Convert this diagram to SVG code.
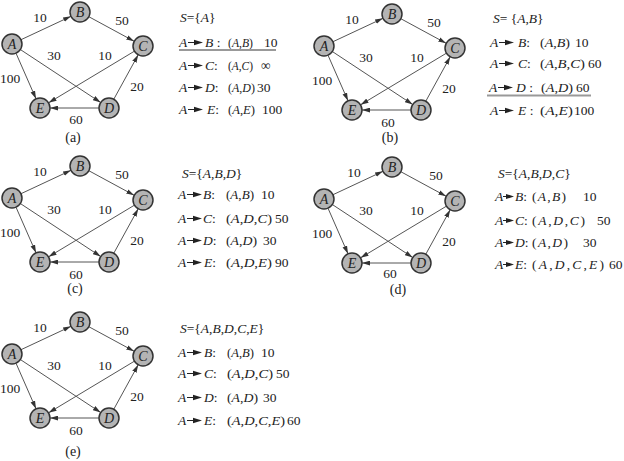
<svg xmlns="http://www.w3.org/2000/svg" xmlns:xlink="http://www.w3.org/1999/xlink" width="624" height="461" viewBox="0 0 624 461">
<style>
.t{font-family:"Liberation Serif","Times New Roman",serif;font-size:13.5px;fill:#222}
.i{font-style:italic}
.lbl{font-family:"Liberation Serif","Times New Roman",serif;font-size:13.5px;fill:#222;text-anchor:middle}
.cap{font-family:"Liberation Serif","Times New Roman",serif;font-size:14px;fill:#222;text-anchor:middle}
.nd circle{fill:#b4b4b4;stroke:#333;stroke-width:1.5}
.nd text{font-family:"Liberation Serif","Times New Roman",serif;font-size:14px;font-style:italic;fill:#222;text-anchor:middle}
.edges line{stroke:#555;stroke-width:1;marker-end:url(#ah)}
.ul{stroke:#999;stroke-width:2}
</style>
<defs>
<marker id="ah" viewBox="0 0 10 6" refX="10" refY="3" markerWidth="8" markerHeight="5" markerUnits="userSpaceOnUse" orient="auto"><path d="M0,0 L10,3 L0,6 Z" fill="#333"/></marker>
<g id="arr"><line x1="0" y1="0" x2="9" y2="0" stroke="#222" stroke-width="1"/><path d="M6,-2.8 L15,0 L6,2.8 Z" fill="#222"/></g>
<g id="arrs"><line x1="0" y1="0" x2="6" y2="0" stroke="#222" stroke-width="1"/><path d="M3,-2.6 L11,0 L3,2.6 Z" fill="#222"/></g>
</defs>

<!-- Panel (a) -->
<g id="panel-a">
<g id="a-connectors" class="edges">
<line x1="21" y1="39.7" x2="71" y2="16.3"/>
<line x1="88.8" y1="16.7" x2="134.2" y2="41.3"/>
<line x1="20.3" y1="49.5" x2="100.7" y2="102.5"/>
<line x1="134.4" y1="51.2" x2="48.6" y2="102.8"/>
<line x1="16" y1="53.2" x2="36" y2="98.8"/>
<line x1="113.8" y1="99.2" x2="138.2" y2="54.8"/>
<line x1="99" y1="108" x2="50" y2="108"/>
</g>
<g id="a-labels">
<text class="lbl" x="40" y="21.5">10</text>
<text class="lbl" x="122" y="24.5">50</text>
<text class="lbl" x="54" y="59.5">30</text>
<text class="lbl" x="105" y="59.5">10</text>
<text class="lbl" x="10" y="82.5">100</text>
<text class="lbl" x="137" y="90.5">20</text>
<text class="lbl" x="76" y="123.5">60</text>
</g>
<g id="a-A" class="nd"><circle cx="12" cy="44" r="10"/><text x="12" y="49">A</text></g>
<g id="a-B" class="nd"><circle cx="80" cy="12" r="10"/><text x="80" y="17">B</text></g>
<g id="a-C" class="nd"><circle cx="143" cy="46" r="10"/><text x="143" y="51">C</text></g>
<g id="a-D" class="nd"><circle cx="109" cy="108" r="10"/><text x="109" y="113">D</text></g>
<g id="a-E" class="nd"><circle cx="40" cy="108" r="10"/><text x="40" y="113">E</text></g>
<text class="cap" x="73" y="142">(a)</text>
</g>
<g id="text-a">
<text class="t" x="180" y="22"><tspan class="i">S</tspan>={<tspan class="i">A</tspan>}</text>
<text class="t" y="47"><tspan x="179" class="i">A</tspan><tspan x="205" class="i">B</tspan> :</text><use xlink:href="#arr" x="188" y="42.5"/>
<text class="t" x="228" y="47" textLength="25" lengthAdjust="spacingAndGlyphs">(<tspan class="i">A</tspan>,<tspan class="i">B</tspan>)</text><text class="t" x="264" y="47">10</text>
<line class="ul" x1="179" y1="50" x2="276" y2="50"/>
<text class="t" y="70"><tspan x="179" class="i">A</tspan><tspan x="205" class="i">C</tspan>:</text><use xlink:href="#arr" x="188" y="65.5"/>
<text class="t" x="228" y="70" textLength="25" lengthAdjust="spacingAndGlyphs">(<tspan class="i">A</tspan>,<tspan class="i">C</tspan>)</text><text class="t" x="261" y="70">∞</text>
<text class="t" y="92"><tspan x="179" class="i">A</tspan><tspan x="205" class="i">D</tspan>:</text><use xlink:href="#arr" x="188" y="87.5"/>
<text class="t" x="228" y="92" textLength="27" lengthAdjust="spacingAndGlyphs">(<tspan class="i">A</tspan>,<tspan class="i">D</tspan>)</text><text class="t" x="257" y="92">30</text>
<text class="t" y="114"><tspan x="179" class="i">A</tspan><tspan x="207" class="i">E</tspan>:</text><use xlink:href="#arr" x="188" y="109.5"/>
<text class="t" x="228" y="114" textLength="27" lengthAdjust="spacingAndGlyphs">(<tspan class="i">A</tspan>,<tspan class="i">E</tspan>)</text><text class="t" x="262" y="114">100</text>
</g>

<!-- Panel (b) -->
<g id="panel-b" transform="translate(312,2)">
<g id="b-connectors" class="edges">
<line x1="21" y1="39.7" x2="71" y2="16.3"/>
<line x1="88.8" y1="16.7" x2="134.2" y2="41.3"/>
<line x1="20.3" y1="49.5" x2="100.7" y2="102.5"/>
<line x1="134.4" y1="51.2" x2="48.6" y2="102.8"/>
<line x1="16" y1="53.2" x2="36" y2="98.8"/>
<line x1="113.8" y1="99.2" x2="138.2" y2="54.8"/>
<line x1="99" y1="108" x2="50" y2="108"/>
</g>
<g id="b-labels">
<text class="lbl" x="40" y="21.5">10</text>
<text class="lbl" x="122" y="24.5">50</text>
<text class="lbl" x="54" y="59.5">30</text>
<text class="lbl" x="105" y="59.5">10</text>
<text class="lbl" x="10" y="82.5">100</text>
<text class="lbl" x="137" y="90.5">20</text>
<text class="lbl" x="76" y="124.5">60</text>
</g>
<g id="b-A" class="nd"><circle cx="12" cy="44" r="10"/><text x="12" y="49">A</text></g>
<g id="b-B" class="nd"><circle cx="80" cy="12" r="10"/><text x="80" y="17">B</text></g>
<g id="b-C" class="nd"><circle cx="143" cy="46" r="10"/><text x="143" y="51">C</text></g>
<g id="b-D" class="nd"><circle cx="109" cy="108" r="10"/><text x="109" y="113">D</text></g>
<g id="b-E" class="nd"><circle cx="40" cy="108" r="10"/><text x="40" y="113">E</text></g>
<text class="cap" x="78" y="140">(b)</text>
</g>
<g id="text-b">
<text class="t" x="493" y="23"><tspan class="i">S</tspan>= {<tspan class="i">A</tspan>,<tspan class="i">B</tspan>}</text>
<text class="t" y="47"><tspan x="490" class="i">A</tspan><tspan x="518" class="i">B</tspan>:</text><use xlink:href="#arr" x="499" y="42.5"/>
<text class="t" x="540" y="47" textLength="30" lengthAdjust="spacingAndGlyphs">(<tspan class="i">A</tspan>,<tspan class="i">B</tspan>)</text><text class="t" x="575" y="47">10</text>
<text class="t" y="68"><tspan x="490" class="i">A</tspan><tspan x="518" class="i">C</tspan>:</text><use xlink:href="#arr" x="499" y="63.5"/>
<text class="t" x="540" y="68" textLength="45" lengthAdjust="spacingAndGlyphs">(<tspan class="i">A</tspan>,<tspan class="i">B</tspan>,<tspan class="i">C</tspan>)</text><text class="t" x="588" y="68">60</text>
<text class="t" y="92"><tspan x="489" class="i">A</tspan><tspan x="516" class="i">D</tspan> :</text><use xlink:href="#arr" x="498" y="87.5"/>
<text class="t" x="541" y="92" textLength="32" lengthAdjust="spacingAndGlyphs">(<tspan class="i">A</tspan>,<tspan class="i">D</tspan>)</text><text class="t" x="576" y="92">60</text>
<line class="ul" x1="487" y1="95.5" x2="591" y2="95.5"/>
<text class="t" y="115"><tspan x="490" class="i">A</tspan><tspan x="518" class="i">E</tspan> :</text><use xlink:href="#arr" x="499" y="110.5"/>
<text class="t" x="540" y="115" textLength="33" lengthAdjust="spacingAndGlyphs">(<tspan class="i">A</tspan>,<tspan class="i">E</tspan>)</text><text class="t" x="574" y="115">100</text>
</g>

<!-- Panel (c) -->
<g id="panel-c" transform="translate(0,154)">
<g id="c-connectors" class="edges">
<line x1="21" y1="39.7" x2="71" y2="16.3"/>
<line x1="88.8" y1="16.7" x2="134.2" y2="41.3"/>
<line x1="20.3" y1="49.5" x2="100.7" y2="102.5"/>
<line x1="134.4" y1="51.2" x2="48.6" y2="102.8"/>
<line x1="16" y1="53.2" x2="36" y2="98.8"/>
<line x1="113.8" y1="99.2" x2="138.2" y2="54.8"/>
<line x1="99" y1="108" x2="50" y2="108"/>
</g>
<g id="c-labels">
<text class="lbl" x="40" y="21.5">10</text>
<text class="lbl" x="122" y="24.5">50</text>
<text class="lbl" x="54" y="59.5">30</text>
<text class="lbl" x="105" y="59.5">10</text>
<text class="lbl" x="10" y="82.5">100</text>
<text class="lbl" x="137" y="90.5">20</text>
<text class="lbl" x="76" y="124.5">60</text>
</g>
<g id="c-A" class="nd"><circle cx="12" cy="44" r="10"/><text x="12" y="49">A</text></g>
<g id="c-B" class="nd"><circle cx="80" cy="12" r="10"/><text x="80" y="17">B</text></g>
<g id="c-C" class="nd"><circle cx="143" cy="46" r="10"/><text x="143" y="51">C</text></g>
<g id="c-D" class="nd"><circle cx="109" cy="108" r="10"/><text x="109" y="113">D</text></g>
<g id="c-E" class="nd"><circle cx="40" cy="108" r="10"/><text x="40" y="113">E</text></g>
<text class="cap" x="75" y="139">(c)</text>
</g>
<g id="text-c">
<text class="t" x="182" y="178"><tspan class="i">S</tspan>={<tspan class="i">A</tspan>,<tspan class="i">B</tspan>,<tspan class="i">D</tspan>}</text>
<text class="t" y="199"><tspan x="178" class="i">A</tspan><tspan x="203" class="i">B</tspan>:</text><use xlink:href="#arr" x="187" y="194.5"/>
<text class="t" x="226" y="199" textLength="28" lengthAdjust="spacingAndGlyphs">(<tspan class="i">A</tspan>,<tspan class="i">B</tspan>)</text><text class="t" x="261" y="199">10</text>
<text class="t" y="223"><tspan x="178" class="i">A</tspan><tspan x="203" class="i">C</tspan>:</text><use xlink:href="#arr" x="187" y="218.5"/>
<text class="t" x="226" y="223" textLength="46" lengthAdjust="spacingAndGlyphs">(<tspan class="i">A</tspan>,<tspan class="i">D</tspan>,<tspan class="i">C</tspan>)</text><text class="t" x="275" y="223">50</text>
<text class="t" y="245"><tspan x="178" class="i">A</tspan><tspan x="203" class="i">D</tspan>:</text><use xlink:href="#arr" x="187" y="240.5"/>
<text class="t" x="226" y="245" textLength="31" lengthAdjust="spacingAndGlyphs">(<tspan class="i">A</tspan>,<tspan class="i">D</tspan>)</text><text class="t" x="263" y="245">30</text>
<text class="t" y="267"><tspan x="178" class="i">A</tspan><tspan x="204" class="i">E</tspan>:</text><use xlink:href="#arr" x="187" y="262.5"/>
<text class="t" x="226" y="267" textLength="46" lengthAdjust="spacingAndGlyphs">(<tspan class="i">A</tspan>,<tspan class="i">D</tspan>,<tspan class="i">E</tspan>)</text><text class="t" x="275" y="267">90</text>
</g>

<!-- Panel (d) -->
<g id="panel-d" transform="translate(312,155)">
<g id="d-connectors" class="edges">
<line x1="21" y1="39.7" x2="71" y2="16.3"/>
<line x1="88.8" y1="16.7" x2="134.2" y2="41.3"/>
<line x1="20.3" y1="49.5" x2="100.7" y2="102.5"/>
<line x1="134.4" y1="51.2" x2="48.6" y2="102.8"/>
<line x1="16" y1="53.2" x2="36" y2="98.8"/>
<line x1="113.8" y1="99.2" x2="138.2" y2="54.8"/>
<line x1="99" y1="108" x2="50" y2="108"/>
</g>
<g id="d-labels">
<text class="lbl" x="42" y="21.5">10</text>
<text class="lbl" x="124" y="24.5">50</text>
<text class="lbl" x="54" y="59.5">30</text>
<text class="lbl" x="105" y="59.5">10</text>
<text class="lbl" x="10" y="82.5">100</text>
<text class="lbl" x="137" y="90.5">20</text>
<text class="lbl" x="78" y="123">60</text>
</g>
<g id="d-A" class="nd"><circle cx="12" cy="44" r="10"/><text x="12" y="49">A</text></g>
<g id="d-B" class="nd"><circle cx="80" cy="12" r="10"/><text x="80" y="17">B</text></g>
<g id="d-C" class="nd"><circle cx="143" cy="46" r="10"/><text x="143" y="51">C</text></g>
<g id="d-D" class="nd"><circle cx="109" cy="108" r="10"/><text x="109" y="113">D</text></g>
<g id="d-E" class="nd"><circle cx="40" cy="108" r="10"/><text x="40" y="113">E</text></g>
<text class="cap" x="86" y="139">(d)</text>
</g>
<g id="text-d">
<text class="t" x="498" y="178"><tspan class="i">S</tspan>={<tspan class="i">A</tspan>,<tspan class="i">B</tspan>,<tspan class="i">D</tspan>,<tspan class="i">C</tspan>}</text>
<text class="t" y="201"><tspan x="495" class="i">A</tspan><tspan x="515" class="i">B</tspan>:</text><use xlink:href="#arrs" x="503" y="196.5"/>
<text class="t" x="532" y="201" textLength="34" lengthAdjust="spacing">(<tspan class="i">A</tspan>,<tspan class="i">B</tspan>)</text><text class="t" x="583" y="201">10</text>
<text class="t" y="225"><tspan x="495" class="i">A</tspan><tspan x="515" class="i">C</tspan>:</text><use xlink:href="#arrs" x="503" y="220.5"/>
<text class="t" x="532" y="225" textLength="53" lengthAdjust="spacing">(<tspan class="i">A</tspan>,<tspan class="i">D</tspan>,<tspan class="i">C</tspan>)</text><text class="t" x="597" y="225">50</text>
<text class="t" y="247"><tspan x="495" class="i">A</tspan><tspan x="515" class="i">D</tspan>:</text><use xlink:href="#arrs" x="503" y="242.5"/>
<text class="t" x="532" y="247" textLength="36" lengthAdjust="spacing">(<tspan class="i">A</tspan>,<tspan class="i">D</tspan>)</text><text class="t" x="583" y="247">30</text>
<text class="t" y="269"><tspan x="495" class="i">A</tspan><tspan x="515" class="i">E</tspan>:</text><use xlink:href="#arrs" x="503" y="264.5"/>
<text class="t" x="532" y="269" textLength="72" lengthAdjust="spacing">(<tspan class="i">A</tspan>,<tspan class="i">D</tspan>,<tspan class="i">C</tspan>,<tspan class="i">E</tspan>)</text><text class="t" x="609" y="269">60</text>
</g>

<!-- Panel (e) -->
<g id="panel-e" transform="translate(0,310)">
<g id="e-connectors" class="edges">
<line x1="21" y1="39.7" x2="71" y2="16.3"/>
<line x1="88.8" y1="16.7" x2="134.2" y2="41.3"/>
<line x1="20.3" y1="49.5" x2="100.7" y2="102.5"/>
<line x1="134.4" y1="51.2" x2="48.6" y2="102.8"/>
<line x1="16" y1="53.2" x2="36" y2="98.8"/>
<line x1="113.8" y1="99.2" x2="138.2" y2="54.8"/>
<line x1="99" y1="108" x2="50" y2="108"/>
</g>
<g id="e-labels">
<text class="lbl" x="40" y="21.5">10</text>
<text class="lbl" x="122" y="24.5">50</text>
<text class="lbl" x="54" y="59.5">30</text>
<text class="lbl" x="105" y="59.5">10</text>
<text class="lbl" x="10" y="82.5">100</text>
<text class="lbl" x="137" y="90.5">20</text>
<text class="lbl" x="76" y="124.5">60</text>
</g>
<g id="e-A" class="nd"><circle cx="12" cy="44" r="10"/><text x="12" y="49">A</text></g>
<g id="e-B" class="nd"><circle cx="80" cy="12" r="10"/><text x="80" y="17">B</text></g>
<g id="e-C" class="nd"><circle cx="143" cy="46" r="10"/><text x="143" y="51">C</text></g>
<g id="e-D" class="nd"><circle cx="109" cy="108" r="10"/><text x="109" y="113">D</text></g>
<g id="e-E" class="nd"><circle cx="40" cy="108" r="10"/><text x="40" y="113">E</text></g>
<text class="cap" x="73" y="146">(e)</text>
</g>
<g id="text-e">
<text class="t" x="180" y="333"><tspan class="i">S</tspan>={<tspan class="i">A</tspan>,<tspan class="i">B</tspan>,<tspan class="i">D</tspan>,<tspan class="i">C</tspan>,<tspan class="i">E</tspan>}</text>
<text class="t" y="357"><tspan x="178" class="i">A</tspan><tspan x="204" class="i">B</tspan>:</text><use xlink:href="#arr" x="187" y="352.5"/>
<text class="t" x="227" y="357" textLength="27" lengthAdjust="spacingAndGlyphs">(<tspan class="i">A</tspan>,<tspan class="i">B</tspan>)</text><text class="t" x="261" y="357">10</text>
<text class="t" y="378"><tspan x="178" class="i">A</tspan><tspan x="204" class="i">C</tspan>:</text><use xlink:href="#arr" x="187" y="373.5"/>
<text class="t" x="227" y="378" textLength="46" lengthAdjust="spacingAndGlyphs">(<tspan class="i">A</tspan>,<tspan class="i">D</tspan>,<tspan class="i">C</tspan>)</text><text class="t" x="276" y="378">50</text>
<text class="t" y="402"><tspan x="178" class="i">A</tspan><tspan x="204" class="i">D</tspan>:</text><use xlink:href="#arr" x="187" y="397.5"/>
<text class="t" x="227" y="402" textLength="31" lengthAdjust="spacingAndGlyphs">(<tspan class="i">A</tspan>,<tspan class="i">D</tspan>)</text><text class="t" x="263" y="402">30</text>
<text class="t" y="425"><tspan x="178" class="i">A</tspan><tspan x="204" class="i">E</tspan>:</text><use xlink:href="#arr" x="187" y="420.5"/>
<text class="t" x="227" y="425" textLength="58" lengthAdjust="spacingAndGlyphs">(<tspan class="i">A</tspan>,<tspan class="i">D</tspan>,<tspan class="i">C</tspan>,<tspan class="i">E</tspan>)</text><text class="t" x="287" y="425">60</text>
</g>
</svg>
